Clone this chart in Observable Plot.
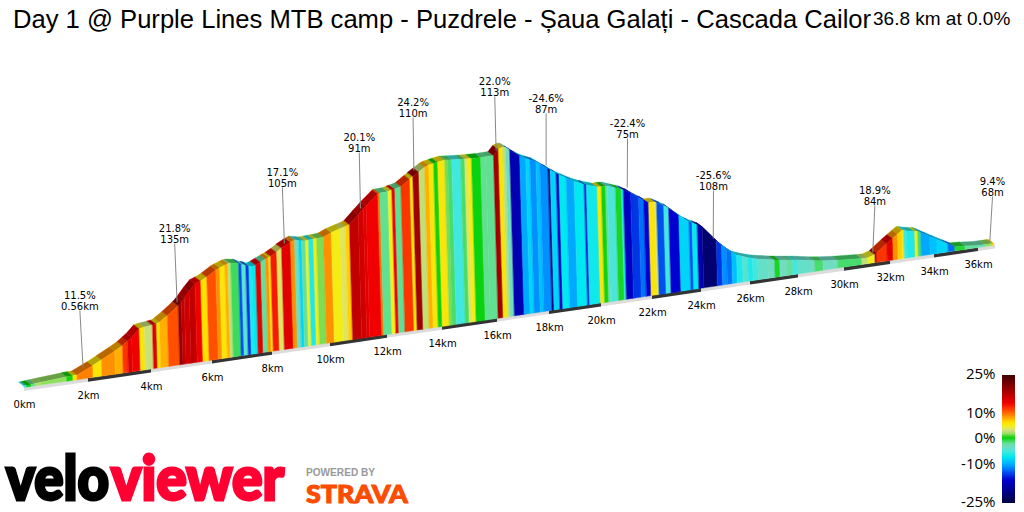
<!DOCTYPE html>
<html><head><meta charset="utf-8">
<script src="https://cdn.jsdelivr.net/npm/d3@7"></script>
<script src="https://cdn.jsdelivr.net/npm/@observablehq/plot@0.6"></script>
<style>
html,body{margin:0;padding:0;background:#fff;width:1024px;height:512px;overflow:hidden}
#wrap{position:relative;width:1024px;height:512px}
#wrap svg{position:absolute;left:0;top:0;background:transparent}
.t{position:absolute;white-space:nowrap;font-family:"Liberation Sans",Arial,sans-serif;color:#000}
</style></head><body><div id="wrap">
<div class="t" id="title" style="left:13px;top:5px;font-size:25.6px">Day 1 @ Purple Lines MTB camp - Puzdrele - Șaua Galați - Cascada Cailor</div>
<div class="t" id="sub" style="left:873px;top:8px;font-size:19px">36.8 km at 0.0%</div>
</div>
<script>
// distance ticks along the ribbon (km) and where the oblique view puts them
const tickKm = [0,2,4,6,8,10,12,14,16,18,20,22,24,26,28,30,32,34,36,36.8];
const tickX = [24,88,151,212,272,330,387,442,497,549,601,652,701,750,798,844,890,934,978,995];
const tickGround = [12.5,21.9,31.1,40.1,48.9,57.4,65.8,73.9,81.9,89.6,97.2,104.7,111.9,119.1,126.1,132.9,139.6,146.1,152.5,155];
const kmLabels = [0,2,4,6,8,10,12,14,16,18,20,22,24,26,28,30,32,34,36];

// profile: end of each gradient band (km), its elevation there, its gradient (%)
const startTop = 14;
const bandEndKm = [0.09,0.22,0.34,0.56,1.34,1.53,1.66,2.16,2.44,2.86,3.11,3.27,3.40,3.65,3.81,4.07,4.20,4.30,4.56,4.92,5.02,5.12,5.28,5.48,5.67,5.87,6.17,6.30,6.47,6.57,6.67,6.93,7.03,7.17,7.27,7.37,7.50,7.67,7.83,7.93,8.00,8.21,8.38,8.69,8.83,8.97,9.07,9.21,9.31,9.48,9.59,9.83,10.10,10.42,10.60,10.74,11.05,11.23,11.33,11.75,11.82,12.11,12.25,12.36,12.58,12.91,13.02,13.24,13.45,13.60,13.78,13.93,14.18,14.29,14.44,14.76,14.91,15.02,15.16,15.49,15.67,15.96,16.15,16.31,16.42,16.58,16.96,17.19,17.35,17.58,17.73,18.04,18.12,18.35,18.46,18.73,19.04,19.42,19.50,19.92,20.08,20.24,20.31,20.63,20.86,20.94,21.22,21.53,21.73,21.92,22.16,22.24,22.53,22.73,23.14,23.55,23.67,23.88,24.08,24.65,24.86,25.06,25.27,25.47,25.71,25.92,26.12,26.33,26.75,27.04,27.25,27.54,27.79,28.00,28.52,28.74,29.09,29.74,30.78,31.04,31.35,31.43,31.87,32.14,32.36,32.55,32.64,32.77,33.14,33.27,33.41,33.82,34.14,34.64,34.95,35.41,36.00,36.33,36.66,36.75];
const bandTop = [14.6,15.5,16.4,17.9,23.2,24.4,25,34.6,40.3,49,54.4,59,62.6,71.4,73,75,76,78,84.6,94.6,98,102,108.7,116.2,119.2,123,130,132.3,134.8,136.2,137,136.7,135.6,134.6,133.9,133,135,138,140.9,142.6,143.7,148,152,158,160,159.5,159.2,159.3,160,161,161.5,163,167.5,171.6,173.6,175.5,185.4,191,194.2,206.3,207,208.5,210,211,213.4,221,223.6,228.2,232.8,235,236.6,238,240,240.1,240.3,240.7,241,241.2,241.6,242.6,243.2,244.5,251,253,252.7,250,244,241.2,240,238.2,236,231.3,230.2,226.6,225,222,218.6,215.5,215.1,213,213.5,213.9,214,212,210.4,210,207,202.2,199.8,197.2,198,197.2,194.2,192,184.6,178.3,177,175.1,173.2,159.5,155,151.5,147.7,144.9,143.5,142.4,141.5,141,140.4,140,140,140,140,140,139.5,139.2,139.3,139.8,141.6,142.2,145.5,147.3,156.6,161.8,166,169.5,169.7,169.1,168.5,168.8,167.5,163.5,160.4,156,153.2,154.1,154.5,155.5,156.5,156.5];
const bandGrade = [-5,0.5,-1.5,2.5,2,0.7,6,9.5,6,9,8,12,15,14,6,3.2,15,6,8,11,20,17,16,17,14,6.5,11,9,6,8,3,-0.8,-13,-4,-14,-6,-7,15,-2,9,6,13,4,15,9,-3,-8,-2,5,-6,5.5,1.8,9,5.5,4,7,17,16,15,14,10,-1.5,5,14,-1.5,12,6,19,3,8,6,0.7,6,1.8,-1,-5,-1,4,5.5,0.3,-1.5,-1.5,19,6,3,-3,-18,-10,-8,-11,-9,-11,-21,-8,-17,-7,-10,-7,-15,-6.5,6,0.7,-2,-4.5,0,-6,-17,-14,-12,-16,6,4,-13,-5,-16,-8,-13,-7,-18,-22,-14,-11,-12,-9,-6,-4,-6,-5,-3.5,-3,0,-3,-2,-5,-3.5,-3,-1,-3,-1,3,5,18,12,15,9,7,6,-5,-6,5,-1,-10,-9,-8,-12,-0.2,-2,-2.5,2,7];

// gradient colour ramp
const gradeStops = [-25,-20,-16,-13,-11,-9,-7,-5,-3,-1.5,0.5,2,3.5,5,6.5,9,11,14,17,20,25];
const gradeColors = ["#000040","#000090","#0000d0","#0050f0","#0090ff","#00c0ff","#00e8f0","#40e8e0","#70dcc0","#60e090","#00d000","#90e060","#d8e080","#f0f020","#ffe000","#ff9000","#ff5000","#f00000","#c00000","#900000","#400000"];
const legendLabels = [25,10,0,-10,-25];

// callouts: text, leader top and foot
const calloutText = ["11.5%\n0.56km","21.8%\n135m","17.1%\n105m","20.1%\n91m","24.2%\n110m","22.0%\n113m","-24.6%\n87m","-22.4%\n75m","-25.6%\n108m","18.9%\n84m","9.4%\n68m"];
const calloutTopKm = [1.73,4.76,8.34,11.01,12.93,15.9,17.87,21.02,24.49,31.32,36.66];
const calloutTopEl = [90,157,213,248,283,304,287,262,210,195,204];
const calloutFootKm = [1.83,4.84,8.41,11.05,12.96,15.95,17.87,21.01,24.48,31.23,36.53];
const calloutFootEl = [33,98,157,192,230,250,235,213,162,148,158];

const kmToX = d3.scaleLinear(tickKm, tickX);
const groundAt = d3.scaleLinear(tickKm, tickGround);
const depthX = 5.5, depthEl = 4, lean = 1/35, stripEl = 3.6;
const shiftKm = (km, dx) => kmToX.invert(kmToX(km) + dx);

const front = [], roof = [];
bandGrade.forEach((grade, i) => {
  const ends = [[i ? bandEndKm[i-1] : 0, i ? bandTop[i-1] : startTop], [bandEndKm[i], bandTop[i]]];
  for (const [km, top] of ends) {
    const g = groundAt(km), h = top - g;
    const topKm = shiftKm(km, -lean*h/2), footKm = shiftKm(km, lean*h/2);
    front.push({band:i, grade, x1:footKm, y1:g, x2:topKm, y2:top});
    roof.push({band:i, grade, x1:topKm, y1:top, x2:shiftKm(topKm,-depthX), y2:top+depthEl});
  }
});
const strip = [];
for (let i = 0; i < tickKm.length-1; i++) for (const km of [tickKm[i], tickKm[i+1]])
  strip.push({seg:i, dark:i%2===1, km, y1:groundAt(km)-stripEl, y2:groundAt(km)});
const labelFont = {fontFamily:"'DejaVu Sans',sans-serif", fontSize:10, fill:"#000"};
const colorScale = {type:"linear", domain:gradeStops, range:gradeColors};

const chart = Plot.plot({
  width:1024, height:512, margin:0,
  x:{type:"linear", domain:tickKm, range:tickX, axis:null},
  y:{type:"linear", domain:[-112,400], range:[512,0], axis:null},
  color:colorScale,
  marks:[
    Plot.areaY(strip.filter(d=>!d.dark),{x:"km",y1:"y1",y2:"y2",z:"seg",fill:"#dcdcdc"}),
    Plot.areaY(strip.filter(d=>d.dark),{x:"km",y1:"y1",y2:"y2",z:"seg",fill:"#333333"}),
    Plot.area(roof,{x1:"x1",y1:"y1",x2:"x2",y2:"y2",z:"band",fill:"grade",stroke:"grade",strokeWidth:0.4}),
    Plot.area(roof,{x1:"x1",y1:"y1",x2:"x2",y2:"y2",z:"band",fill:"#000",fillOpacity:0.28}),
    Plot.area(front,{x1:"x1",y1:"y1",x2:"x2",y2:"y2",z:"band",fill:"grade",stroke:"grade",strokeWidth:0.4}),
    Plot.link(calloutText,{x1:(d,i)=>calloutTopKm[i],y1:(d,i)=>calloutTopEl[i],x2:(d,i)=>calloutFootKm[i],y2:(d,i)=>calloutFootEl[i],stroke:"#888",strokeWidth:1}),
    Plot.text(calloutText,{x:(d,i)=>calloutTopKm[i],y:(d,i)=>calloutTopEl[i],text:d=>d,lineAnchor:"bottom",lineHeight:1.05,dy:-1,...labelFont}),
    Plot.text(kmLabels,{x:d=>d,y:d=>groundAt(d),text:d=>d+"km",dy:17,...labelFont})
  ]
});
document.getElementById("wrap").append(chart);

const legend = Plot.plot({
  width:1024, height:512, margin:0,
  x:{type:"linear", domain:[0,1024], range:[0,1024], axis:null},
  y:{type:"linear", domain:[-25,25], range:[503,375], axis:null},
  color:colorScale,
  marks:[
    Plot.rect(d3.range(-25,25,0.5),{x1:1002,x2:1015,y1:d=>d,y2:d=>Math.min(25,d+1),fill:d=>d+0.25}),
    Plot.text(legendLabels,{x:995,y:d=>d,text:d=>d+"%",textAnchor:"end",dy:-1,fontFamily:"'Open Sans',sans-serif",fontSize:15,fill:"#000"})
  ]
});
legend.style.pointerEvents="none";
document.getElementById("wrap").append(legend);

const ns="http://www.w3.org/2000/svg";
const logo=document.createElementNS(ns,"svg");
logo.setAttribute("width",1024);logo.setAttribute("height",512);
const logoTexts=[
 ["velo",6,499.5,60,900,"#000",103,"Lato",3],
 ["viewer",111,499.5,60,900,"#ff0033",173,"Lato",3],
 ["POWERED BY",306,476,10,700,"#999",69,"'Liberation Sans'",0],
 ["STRAVA",306,503,24,900,"#fc4c02",102,"Lato",1]];
for(const [s,x,y,fs,w,c,len,ff,sw] of logoTexts){
 const t=document.createElementNS(ns,"text");
 t.textContent=s;t.setAttribute("x",x);t.setAttribute("y",y);t.setAttribute("font-size",fs);
 t.setAttribute("font-weight",w);t.setAttribute("fill",c);t.setAttribute("font-family",ff);
 if(sw){t.setAttribute("stroke",c);t.setAttribute("stroke-width",sw);}
 t.setAttribute("textLength",len);t.setAttribute("lengthAdjust","spacingAndGlyphs");
 logo.append(t);
}
document.getElementById("wrap").append(logo);
</script>
</body></html>
